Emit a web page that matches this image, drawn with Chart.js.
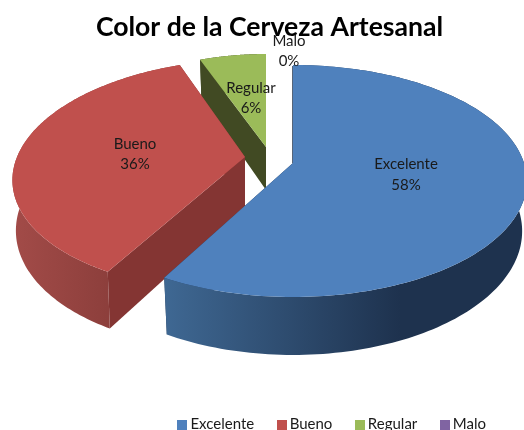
<!DOCTYPE html>
<html>
<head>
<meta charset="utf-8">
<style>html,body{margin:0;padding:0;background:#fff;overflow:hidden}canvas{display:block}</style>
<script src="https://cdn.jsdelivr.net/npm/chart.js@4"></script>
</head>
<body>
<canvas id="c" width="524" height="430"></canvas>
<script>
const categories = ['Excelente', 'Bueno', 'Regular', 'Malo'];
const values = [58, 36, 6, 0];
const topColors = ['#4f81bd', '#c0504d', '#9bbb59', '#8064a2'];
const titleText = 'Color de la Cerveza Artesanal';

// 3D view of each exploded slice (drawing style, not data)
const apexX = [293, 245, 266, 0];
const apexY = [163, 157, 147, 0];
const radiusX = [231, 228, 205, 0];
const radiusY = [113.2, 113.2, 107.4, 0];
const shear = [0, 10, 0, 0];
const depth = [49, 49, 43, 0];
const perspective = 0.155;
const bottomShrink = [0.98, 0.985, 0.98, 1];
const sideFrom = ['#3f6893', '#a24b48', '#414a23', '#000'];
const sideTo = ['#1e324e', '#8d3f3c', '#414a23', '#000'];
const sideRange = [[164, 400], [15, 107], [200, 266], [0, 1]];
const cutColors = ['#1e324e', '#843533', '#414a23', '#000'];
const labelX = [406, 135, 251, 289];
const labelY = [164, 144, 88, 41];
const labelGap = [21, 20, 20, 20];

function project(i, a, low) {
  const X = Math.cos(a), Y = -Math.sin(a), w = 1 + perspective * Y;
  let x = apexX[i] + (radiusX[i] * X + shear[i] * Y) / w;
  let y = apexY[i] - radiusY[i] * Y / w;
  if (low) { x = apexX[i] + (x - apexX[i]) * bottomShrink[i]; y += depth[i] / w; }
  return [x, y];
}
function apexLow(i) { return [apexX[i], apexY[i] + depth[i]]; }
function polygon(ctx, pts, fill) {
  ctx.beginPath();
  pts.forEach((p, n) => n ? ctx.lineTo(p[0], p[1]) : ctx.moveTo(p[0], p[1]));
  ctx.closePath();
  ctx.fillStyle = fill;
  ctx.fill();
}
function arcPoints(i, s, e, low) {
  const out = [], n = 160;
  for (let t = 0; t <= n; t++) out.push(project(i, s + (e - s) * t / n, low));
  return out;
}

const pie3d = {
  id: 'pie3d',
  beforeDatasetsDraw(chart) {
    const ctx = chart.ctx;
    const arcs = chart.getDatasetMeta(0).data;
    ctx.save();
    [3, 2, 1, 0].forEach(i => {
      if (!values[i]) return;
      const s = arcs[i].startAngle, e = arcs[i].endAngle;
      const topArc = arcPoints(i, s, e, false);
      const lowArc = arcPoints(i, s, e, true);
      // cut faces of the slice
      polygon(ctx, [[apexX[i], apexY[i]], project(i, e, false), project(i, e, true), apexLow(i)], cutColors[i]);
      polygon(ctx, [[apexX[i], apexY[i]], project(i, s, false), project(i, s, true), apexLow(i)], cutColors[i]);
      // curved outer wall
      const g = ctx.createLinearGradient(sideRange[i][0], 0, sideRange[i][1], 0);
      g.addColorStop(0, sideFrom[i]);
      g.addColorStop(1, sideTo[i]);
      polygon(ctx, topArc.concat(lowArc.slice().reverse()), g);
      // top face
      polygon(ctx, [[apexX[i], apexY[i]]].concat(topArc), topColors[i]);
      if (i === 0) {
        const p = project(i, s, false);
        ctx.beginPath();
        ctx.moveTo(p[0] - 0.5, p[1] + 1);
        ctx.lineTo(apexX[i] - 0.5, apexY[i]);
        ctx.strokeStyle = 'rgba(30,50,78,0.75)';
        ctx.lineWidth = 1;
        ctx.stroke();
      }
    });
    ctx.restore();
    return false;
  },
  afterDraw(chart) {
    const ctx = chart.ctx;
    const total = values.reduce((a, b) => a + b, 0);
    ctx.save();
    ctx.font = '15px Lato';
    ctx.textAlign = 'center';
    ctx.textBaseline = 'middle';
    ctx.fillStyle = '#1a1a1a';
    categories.forEach((name, i) => {
      ctx.fillText(name, labelX[i], labelY[i]);
      ctx.fillText(Math.round(values[i] / total * 100) + '%', labelX[i], labelY[i] + labelGap[i]);
    });
    ctx.restore();
  }
};

function swatch(color) {
  const b = document.createElement('canvas');
  b.width = 10; b.height = 10;
  const x = b.getContext('2d');
  x.fillStyle = color;
  x.fillRect(0, 0, 10, 10);
  return b;
}

new Chart(document.getElementById('c'), {
  type: 'pie',
  data: { labels: categories, datasets: [{ data: values, backgroundColor: topColors, borderWidth: 0 }] },
  options: {
    responsive: false,
    animation: false,
    layout: { padding: { left: 26, right: 11, bottom: -12 } },
    plugins: {
      title: {
        display: true,
        text: titleText,
        color: '#000',
        font: { family: 'Lato', size: 26.6, weight: 'bold' },
        padding: { top: 11, bottom: 4 }
      },
      tooltip: { enabled: false },
      legend: {
        display: true,
        position: 'bottom',
        align: 'end',
        labels: {
          usePointStyle: true,
          boxWidth: 1,
          padding: 27,
          color: '#1a1a1a',
          font: { family: 'Lato', size: 15 },
          generateLabels(chart) {
            return Chart.overrides.pie.plugins.legend.labels.generateLabels(chart).map((item, i) => {
              item.pointStyle = swatch(topColors[i]);
              return item;
            });
          }
        }
      }
    }
  },
  plugins: [pie3d]
});
</script>
</body>
</html>
